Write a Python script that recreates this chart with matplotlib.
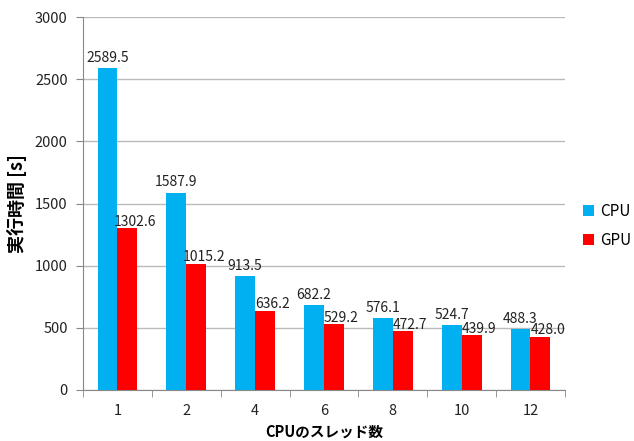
import matplotlib.pyplot as plt
import numpy as np

plt.rcParams['font.family'] = ['Noto Sans CJK JP', 'DejaVu Sans']

threads = ["1", "2", "4", "6", "8", "10", "12"]
cpu_time = [2589.5, 1587.9, 913.5, 682.2, 576.1, 524.7, 488.3]
gpu_time = [1302.6, 1015.2, 636.2, 529.2, 472.7, 439.9, 428.0]

fig = plt.figure(figsize=(6.34, 4.41), dpi=100)
ax = fig.add_axes([0.131, 0.116, 0.760, 0.845])

x = np.arange(len(threads))
w = 0.29
b1 = ax.bar(x - w / 2, cpu_time, w, color="#00B0F0", label="CPU", zorder=3)
b2 = ax.bar(x + w / 2, gpu_time, w, color="#FF0000", label="GPU", zorder=3)

# value labels above each bar (GPU ones nudged right so they don't collide)
for r in b1:
    h = r.get_height()
    ax.text(r.get_x() + r.get_width() / 2, h + 25, f"{h:.1f}",
            ha="center", va="bottom", fontsize=10, color="#222222", zorder=4)
for r in b2:
    h = r.get_height()
    ax.text(r.get_x() + r.get_width() / 2 + 0.11, h - 5, f"{h:.1f}",
            ha="center", va="bottom", fontsize=10, color="#222222", zorder=4)

ax.set_ylim(0, 3000)
ax.set_yticks(range(0, 3001, 500))
ax.set_xlim(-0.5, len(threads) - 0.5)
ax.set_xticks(x)
ax.set_xticklabels(threads)
ax.set_xticks(np.arange(-0.5, len(threads)), minor=True)
ax.tick_params(axis="x", which="major", length=0, pad=10)
ax.tick_params(axis="x", which="minor", length=5, color="#888888")
ax.tick_params(axis="y", length=5, color="#888888", pad=6)
ax.tick_params(labelsize=10.5, labelcolor="#222222")

ax.grid(axis="y", color="#BBBBBB", linewidth=1, zorder=0)
for s in ("top", "right"):
    ax.spines[s].set_visible(False)
for s in ("left", "bottom"):
    ax.spines[s].set_color("#888888")

ax.set_ylabel("実行時間 [s]", fontsize=13, fontweight="bold", labelpad=6)
ax.set_xlabel("CPUのスレッド数", fontsize=10.5, fontweight="bold", labelpad=4)

ax.legend(loc="center left", bbox_to_anchor=(1.01, 0.44), frameon=False,
          handlelength=0.7, handleheight=0.7, fontsize=11, labelspacing=0.75,
          handletextpad=0.4)

fig.savefig("out.png", dpi=100)
